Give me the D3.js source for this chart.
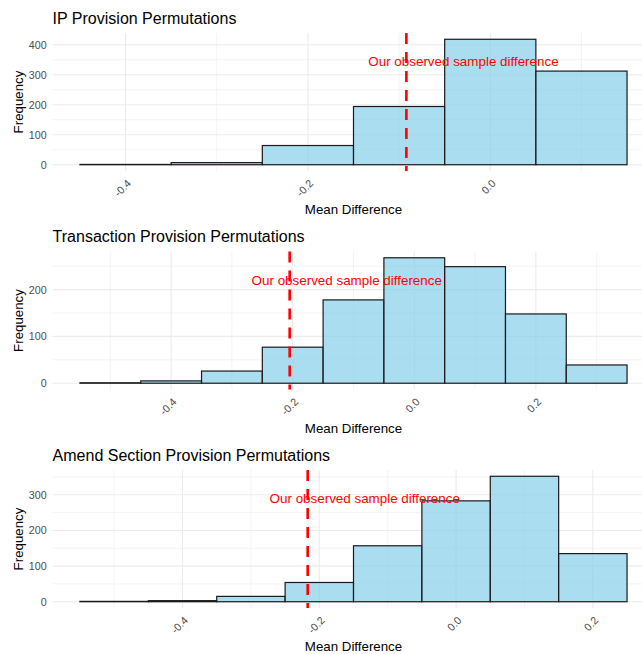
<!DOCTYPE html>
<html>
<head>
<meta charset="utf-8">
<script src="https://cdn.jsdelivr.net/npm/d3@7"></script>
<style>
  html, body { margin: 0; padding: 0; background: #ffffff; }
  svg { display: block; }
  text { font-family: "Liberation Sans", Arial, Helvetica, sans-serif; }
</style>
</head>
<body>
<svg id="chart" width="642" height="654"></svg>
<script>
// Permutation histograms of mean differences, bin width 0.1
const binWidth = 0.1;

const titles = [
  "IP Provision Permutations",
  "Transaction Provision Permutations",
  "Amend Section Provision Permutations"
];

// bin centres and counts for each permutation test
const ipBins = [-0.4, -0.3, -0.2, -0.1, 0.0, 0.1];
const ipCounts = [1, 7, 64, 194, 418, 312];

const txBins = [-0.5, -0.4, -0.3, -0.2, -0.1, 0.0, 0.1, 0.2, 0.3];
const txCounts = [1, 5, 26, 77, 178, 268, 249, 148, 39];

const amBins = [-0.5, -0.4, -0.3, -0.2, -0.1, 0.0, 0.1, 0.2];
const amCounts = [1, 3, 15, 54, 157, 283, 352, 135];

// observed sample differences and the y position of their labels
const observed = [-0.092, -0.205, -0.217];
const labelY = [343, 219, 289];
const labelText = "Our observed sample difference";

// axis breaks
const yTicks = [[0, 100, 200, 300, 400], [0, 100, 200], [0, 100, 200, 300]];
const xTicks = [[-0.4, -0.2, 0.0], [-0.4, -0.2, 0.0, 0.2], [-0.4, -0.2, 0.0, 0.2]];

const panels = [
  { bins: ipBins, counts: ipCounts },
  { bins: txBins, counts: txCounts },
  { bins: amBins, counts: amCounts }
];

const svg = d3.select("#chart");
const fmt = d3.formatLocale({ decimal: ".", thousands: ",", grouping: [3], currency: ["", ""], minus: "-" }).format(".1f");

const panelH = 218.5;
const left = 52.6, right = 654.4;
const topOff = 33, bottomOff = 171;

panels.forEach((p, i) => {
  const off = i * panelH;
  const g = svg.append("g").attr("transform", `translate(0,${off})`);

  const lo = d3.min(p.bins) - binWidth / 2;
  const hi = d3.max(p.bins) + binWidth / 2;
  const padX = (hi - lo) * 0.05;
  const x = d3.scaleLinear().domain([lo - padX, hi + padX]).range([left, right]);

  const maxC = d3.max(p.counts);
  const y = d3.scaleLinear().domain([-0.05 * maxC, 1.05 * maxC]).range([bottomOff, topOff]);

  // minor breaks sit halfway between the majors (and one step beyond each end)
  const xs = xTicks[i], ys = yTicks[i];
  const xStep = xs[1] - xs[0], yStep = ys[1] - ys[0];
  const xMinor = [];
  for (let v = xs[0] - xStep / 2; v <= xs[xs.length - 1] + xStep / 2 + 1e-9; v += xStep) {
    if (v >= x.domain()[0] && v <= x.domain()[1]) xMinor.push(v);
  }
  const yMinor = [];
  for (let v = ys[0] - yStep / 2; v <= ys[ys.length - 1] + yStep / 2 + 1e-9; v += yStep) {
    if (v >= y.domain()[0] && v <= y.domain()[1]) yMinor.push(v);
  }

  const grid = g.append("g");
  grid.selectAll(".ymin").data(yMinor).join("line")
    .attr("x1", left).attr("x2", right)
    .attr("y1", d => y(d)).attr("y2", d => y(d))
    .attr("stroke", "#ebebeb").attr("stroke-width", 0.6);
  grid.selectAll(".xmin").data(xMinor).join("line")
    .attr("y1", topOff).attr("y2", bottomOff)
    .attr("x1", d => x(d)).attr("x2", d => x(d))
    .attr("stroke", "#ebebeb").attr("stroke-width", 0.6);
  grid.selectAll(".ymaj").data(ys).join("line")
    .attr("x1", left).attr("x2", right)
    .attr("y1", d => y(d)).attr("y2", d => y(d))
    .attr("stroke", "#ebebeb").attr("stroke-width", 1.1);
  grid.selectAll(".xmaj").data(xs).join("line")
    .attr("y1", topOff).attr("y2", bottomOff)
    .attr("x1", d => x(d)).attr("x2", d => x(d))
    .attr("stroke", "#ebebeb").attr("stroke-width", 1.1);

  // histogram bars
  g.append("g").selectAll("rect")
    .data(p.bins.map((b, k) => ({ b, c: p.counts[k] })))
    .join("rect")
    .attr("x", d => x(d.b - binWidth / 2))
    .attr("width", d => x(d.b + binWidth / 2) - x(d.b - binWidth / 2))
    .attr("y", d => y(d.c))
    .attr("height", d => y(0) - y(d.c))
    .attr("fill", "#87ceeb").attr("fill-opacity", 0.7)
    .attr("stroke", "#1a1a1a").attr("stroke-width", 1.2);

  // observed difference marker
  const ox = x(observed[i]);
  g.append("line")
    .attr("x1", ox).attr("x2", ox)
    .attr("y1", topOff).attr("y2", bottomOff)
    .attr("stroke", "#ff0000").attr("stroke-width", 2.6)
    .attr("stroke-dasharray", "11,8");

  const lab = g.append("text")
    .attr("x", ox).attr("y", y(labelY[i]))
    .attr("dy", "0.35em")
    .attr("font-size", 13.4).attr("fill", "#ff0000")
    .text(labelText);
  const w = lab.node().getComputedTextLength();
  lab.attr("x", ox - 0.2 * w);

  // y axis labels
  const yAxis = g.append("g").attr("transform", `translate(${left - 6},0)`)
    .call(d3.axisLeft(y).tickValues(ys).tickSize(0).tickPadding(0).tickFormat(d3.format("d")));
  yAxis.select(".domain").remove();
  yAxis.selectAll("text").attr("font-size", 10.7).attr("fill", "#4d4d4d")
    .attr("font-family", "Liberation Sans, Arial, sans-serif");

  // x axis labels, rotated
  const xAxis = g.append("g").attr("transform", `translate(0,${bottomOff})`)
    .call(d3.axisBottom(x).tickValues(xs).tickSize(0).tickFormat(fmt));
  xAxis.select(".domain").remove();
  xAxis.selectAll("text")
    .attr("font-size", 10.7).attr("fill", "#4d4d4d")
    .attr("font-family", "Liberation Sans, Arial, sans-serif")
    .attr("text-anchor", "end")
    .attr("x", 3).attr("y", 10.5).attr("dy", "0.35em")
    .attr("transform", "rotate(-45, 3, 10.5)");

  // titles
  g.append("text").attr("x", left).attr("y", 23.5)
    .attr("font-size", 16).attr("fill", "#000").text(titles[i]);
  g.append("text").attr("x", (left + right) / 2).attr("y", 214)
    .attr("text-anchor", "middle").attr("font-size", 13.3).attr("fill", "#000")
    .text("Mean Difference");
  g.append("text")
    .attr("transform", `translate(22.5,${(topOff + bottomOff) / 2}) rotate(-90)`)
    .attr("text-anchor", "middle").attr("font-size", 13.3).attr("fill", "#000")
    .text("Frequency");
});
</script>
</body>
</html>
